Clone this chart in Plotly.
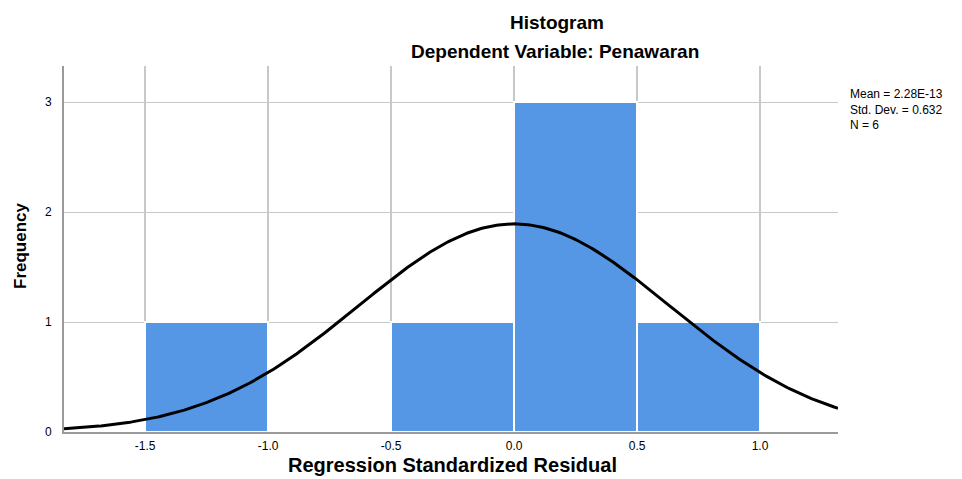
import numpy as np
import plotly.graph_objects as go

# Data
bin_starts = [-1.5, -1.0, -0.5, 0.0, 0.5]
counts = [1, 0, 1, 3, 1]
bin_width = 0.5
mean_val = 2.28e-13
std_val = 0.632
n_val = 6
x_ticks = [-1.5, -1.0, -0.5, 0.0, 0.5, 1.0]
y_ticks = [0, 1, 2, 3]

x_range = [-1.83, 1.317]
y_range = [0, 3.33]

centers = [s + bin_width / 2 for s in bin_starts]

xs = np.linspace(x_range[0], x_range[1], 400)
ys = n_val * bin_width / (std_val * np.sqrt(2 * np.pi)) * np.exp(-0.5 * ((xs - mean_val) / std_val) ** 2)

font = "Liberation Sans, Arial, sans-serif"

# page offset (browser body margin)
OFF = 8
W, H = 962 - OFF, 479 - OFF
l, t = 64 - OFF, 66 - OFF
pw, ph = 838 - 64, 432 - 66
r = W - l - pw
b = H - t - ph


def px(x):
    return (x - OFF - l) / pw


def py(y):
    return (H - b - (y - OFF)) / ph


fig = go.Figure()
fig.add_trace(go.Bar(
    x=centers, y=counts, width=[bin_width] * len(centers),
    marker=dict(color="#5596e5", line=dict(color="white", width=2)),
    hoverinfo="skip",
))
fig.add_trace(go.Scatter(
    x=xs, y=ys, mode="lines",
    line=dict(color="black", width=3),
    hoverinfo="skip",
))

ann = [
    dict(text="<b>Histogram</b>", x=px(557), y=py(22), font=dict(size=19)),
    dict(text="<b>Dependent Variable: Penawaran</b>", x=px(555), y=py(52),
         font=dict(size=19)),
    dict(text="<b>Frequency</b>", x=px(20), y=py(246), textangle=-90,
         font=dict(size=17)),
    dict(text="<b>Regression Standardized Residual</b>", x=px(452), y=py(465),
         font=dict(size=20)),
    dict(text=f"Mean = {mean_val:.2E}<br>Std. Dev. = {std_val}<br>N = {n_val}",
         x=px(848), y=py(85), xanchor="left", yanchor="top", align="left",
         font=dict(size=12)),
]
for a in ann:
    a.update(xref="paper", yref="paper", showarrow=False)
    a.setdefault("xanchor", "center")
    a.setdefault("yanchor", "middle")

fig.update_layout(
    width=W, height=H,
    margin=dict(l=l, r=r, t=t, b=b, autoexpand=False),
    paper_bgcolor="white", plot_bgcolor="white",
    showlegend=False,
    bargap=0,
    font=dict(family=font, color="black"),
    xaxis=dict(
        range=x_range, tickvals=x_ticks,
        ticktext=[f"{v:.1f}" for v in x_ticks],
        showgrid=True, gridcolor="#c8c8c8", gridwidth=1.5,
        showline=True, linecolor="#9a9a9a", linewidth=2,
        zeroline=False, ticks="", tickfont=dict(size=12, color="black"),
        automargin=False, ticklabelstandoff=2,
    ),
    yaxis=dict(
        range=y_range, tickvals=y_ticks,
        showgrid=True, gridcolor="#c8c8c8", gridwidth=1,
        showline=True, linecolor="#9a9a9a", linewidth=2,
        zeroline=False, ticks="", tickfont=dict(size=12, color="black"),
        ticklabelstandoff=8, automargin=False,
    ),
    annotations=ann,
)

fig.write_html("out.html")
